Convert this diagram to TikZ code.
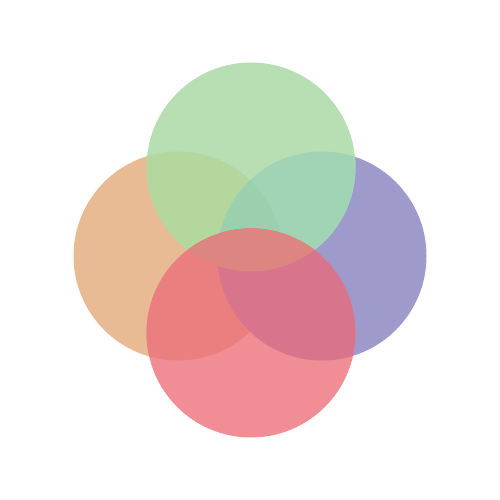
\documentclass[tikz,border=0pt]{standalone}
\usepackage{xcolor}
\usepackage{tikz}

\definecolor{orangec}{RGB}{232,187,148}
\definecolor{purplec}{RGB}{158,154,204}
\definecolor{greenc}{RGB}{184,222,180}
\definecolor{redc}{RGB}{240,141,149}
\definecolor{ogc}{RGB}{180,215,158}
\definecolor{gpc}{RGB}{160,212,180}
\definecolor{ogpc}{RGB}{154,208,173}
\definecolor{roc}{RGB}{235,127,128}
\definecolor{rpc}{RGB}{216,116,140}
\definecolor{rgc}{RGB}{220,133,129}

\begin{document}
\begin{tikzpicture}
\def\rad{2.09}
% Canvas
\useasboundingbox (0,0) rectangle (10,10);

% Circle centres
\coordinate (left) at (3.56,4.88);
\coordinate (right) at (6.44,4.88);
\coordinate (top) at (5.02,6.66);
\coordinate (bottom) at (5.02,3.34);

% Single circles
\fill[orangec] (left) circle (\rad);
\fill[purplec] (right) circle (\rad);
\fill[greenc] (top) circle (\rad);

% Top circle overlaps
\begin{scope}
\clip (left) circle (\rad);
\fill[ogc] (top) circle (\rad);
\end{scope}
\begin{scope}
\clip (right) circle (\rad);
\fill[gpc] (top) circle (\rad);
\end{scope}
\begin{scope}
\clip (right) circle (\rad);
\clip (left) circle (\rad);
\fill[ogpc] (top) circle (\rad);
\end{scope}

% Bottom circle and its overlaps
\fill[redc] (bottom) circle (\rad);
\begin{scope}
\clip (left) circle (\rad);
\fill[roc] (bottom) circle (\rad);
\end{scope}
\begin{scope}
\clip (right) circle (\rad);
\fill[rpc] (bottom) circle (\rad);
\end{scope}
\begin{scope}
\clip (top) circle (\rad);
\fill[rgc] (bottom) circle (\rad);
\end{scope}
\end{tikzpicture}
\end{document}
